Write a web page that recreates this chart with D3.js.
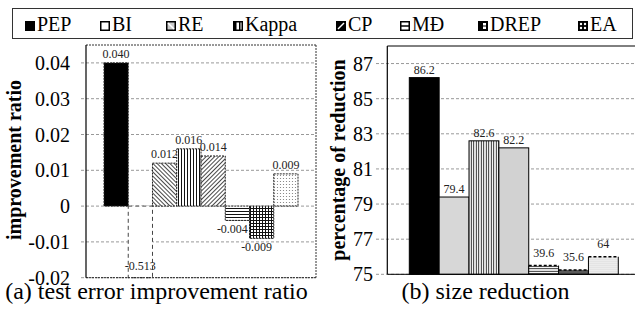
<!DOCTYPE html>
<html><head><meta charset="utf-8">
<script src="https://cdn.jsdelivr.net/npm/d3@7"></script>
<style>
body{margin:0;background:#fff}
svg{display:block}
text{font-family:"Liberation Serif","Times New Roman",serif}
</style>
</head><body>
<svg id="c" width="635" height="310" font-family="Liberation Serif, Times New Roman, serif"></svg>
<script>
// ---------- data ----------
const methods = ["PEP","BI","RE","Kappa","CP","MÐ","DREP","EA"];
const improvement = [0.040,-0.513,0.012,0.016,0.014,-0.004,-0.009,0.009];
const improvementLabels = ["0.040","-0.513","0.012","0.016","0.014","-0.004","-0.009","0.009"];
const improvementTicks = [-0.02,-0.01,0,0.01,0.02,0.03,0.04];
const improvementTickLabels = ["-0.02","-0.01","0","0.01","0.02","0.03","0.04"];

const sizeMethods = ["PEP","RE","Kappa","CP","MÐ","DREP","EA"];
const sizeReduction = [86.2,79.4,82.6,82.2,39.6,35.6,64];
const sizeLabels = ["86.2","79.4","82.6","82.2","39.6","35.6","64"];
const sizeStubTop = [null,null,null,null,75.5,75.25,76]; // drawn top of broken (off-scale) bars
const sizeTicks = [75,77,79,81,83,85,87];

// ---------- layout ----------
const svg = d3.select("#c");
const defs = svg.append("defs");

function linePattern(id, angle, gap, sw, color){
  const p = defs.append("pattern").attr("id",id).attr("patternUnits","userSpaceOnUse")
    .attr("width",gap).attr("height",gap).attr("patternTransform",`rotate(${angle})`);
  p.append("rect").attr("width",gap).attr("height",gap).attr("fill","#fff");
  p.append("line").attr("x1",gap/2).attr("x2",gap/2).attr("y1",0).attr("y2",gap)
    .attr("stroke",color).attr("stroke-width",sw);
}
function gridPattern(id, gap, sw, color){
  const p = defs.append("pattern").attr("id",id).attr("patternUnits","userSpaceOnUse")
    .attr("width",gap).attr("height",gap);
  p.append("rect").attr("width",gap).attr("height",gap).attr("fill","#fff");
  p.append("line").attr("x1",gap/2).attr("x2",gap/2).attr("y1",0).attr("y2",gap).attr("stroke",color).attr("stroke-width",sw);
  p.append("line").attr("y1",gap/2).attr("y2",gap/2).attr("x1",0).attr("x2",gap).attr("stroke",color).attr("stroke-width",sw);
}
function dotPattern(id, gap, r, color){
  const p = defs.append("pattern").attr("id",id).attr("patternUnits","userSpaceOnUse")
    .attr("width",gap).attr("height",gap);
  p.append("rect").attr("width",gap).attr("height",gap).attr("fill","#fff");
  p.append("circle").attr("cx",gap/2).attr("cy",gap/2).attr("r",r).attr("fill",color);
}
// left chart patterns
linePattern("a-RE",-45,3,0.9,"#333");
linePattern("a-Kappa",0,3,1,"#111");
linePattern("a-CP",45,3,0.9,"#333");
linePattern("a-MD",90,3,1,"#111");
gridPattern("a-DREP",3,1,"#111");
dotPattern("a-EA",3,0.6,"#777");
// right chart patterns
linePattern("b-RE",45,2,0.6,"#777");
linePattern("b-Kappa",0,2.5,0.9,"#111");
linePattern("b-CP",-45,2,0.6,"#666");
linePattern("b-MD",90,2.5,0.9,"#111");
gridPattern("b-DREP",2,0.9,"#111");
dotPattern("b-EA",2,0.5,"#888");

const key = m => m === "MÐ" ? "MD" : m;
function fillFor(prefix, m){
  if (m === "PEP") return "#000";
  if (m === "BI") return "#fff";
  return `url(#${prefix}-${key(m)})`;
}

// ---------- legend ----------
const legendX = [25,100,166,233,336,400,478,578];
svg.append("rect").attr("x",12.5).attr("y",8.5).attr("width",620).attr("height",30)
  .attr("fill","none").attr("stroke","#333").attr("stroke-width",1);
const lg = svg.append("g");
methods.forEach((m,i)=>{
  const x = legendX[i], y = 21;
  const g = lg.append("g").attr("transform",`translate(${x},${y})`);
  const k = key(m);
  if (k === "PEP") g.append("rect").attr("width",10).attr("height",10).attr("fill","#000");
  else if (k === "BI") g.append("rect").attr("x",0.75).attr("y",0.75).attr("width",8.5).attr("height",8.5).attr("fill","#fff").attr("stroke","#000").attr("stroke-width",1.5);
  else if (k === "RE") {
    g.append("rect").attr("x",0.75).attr("y",0.75).attr("width",8.5).attr("height",8.5).attr("fill","#ccc").attr("stroke","#000").attr("stroke-width",1.5);
    g.append("line").attr("x1",2).attr("y1",2).attr("x2",8).attr("y2",8).attr("stroke","#fff").attr("stroke-width",1.5);
  } else if (k === "Kappa") {
    g.append("rect").attr("x",0.75).attr("y",0.75).attr("width",8.5).attr("height",8.5).attr("fill","#fff").attr("stroke","#000").attr("stroke-width",1.5);
    g.append("rect").attr("x",1).attr("y",1).attr("width",2.5).attr("height",8).attr("fill","#000");
    g.append("rect").attr("x",6).attr("y",1).attr("width",1.5).attr("height",8).attr("fill","#000");
  } else if (k === "CP") {
    g.append("rect").attr("width",10).attr("height",10).attr("fill","#000");
    g.append("line").attr("x1",2).attr("y1",8).attr("x2",8).attr("y2",2).attr("stroke","#fff").attr("stroke-width",1.5);
  } else if (k === "MD") {
    g.append("rect").attr("x",0.75).attr("y",0.75).attr("width",8.5).attr("height",8.5).attr("fill","#fff").attr("stroke","#000").attr("stroke-width",1.5);
    g.append("line").attr("x1",1).attr("y1",5).attr("x2",9).attr("y2",5).attr("stroke","#000").attr("stroke-width",1.5);
  } else if (k === "DREP") {
    g.append("rect").attr("width",10).attr("height",10).attr("fill","#000");
    g.append("rect").attr("x",5).attr("y",2).attr("width",3).attr("height",2.5).attr("fill","#fff");
    g.append("rect").attr("x",5).attr("y",5.5).attr("width",3).attr("height",2.5).attr("fill","#fff");
  } else if (k === "EA") {
    g.append("rect").attr("width",10).attr("height",10).attr("fill","#000");
    [[3,3],[7,3],[3,7],[7,7]].forEach(([cx,cy])=>g.append("circle").attr("cx",cx).attr("cy",cy).attr("r",1.2).attr("fill","#fff"));
  }
  lg.append("text").attr("x",x+12).attr("y",31).attr("font-size",20).attr("fill","#000").text(m);
});

// ---------- chart (a) ----------
const ax0 = 86, ax1 = 316, ayTop = 45, ayBot = 277.7;
const xa = d3.scaleBand().domain(methods).range([ax0,ax1]).paddingInner(0).paddingOuter(0.742);
const ya = d3.scaleLinear().domain([-0.02,0.045]).range([ayBot,ayTop]);
const ga = svg.append("g");
ga.selectAll("line.grid").data(improvementTicks).join("line")
  .attr("x1",81).attr("x2",ax1).attr("y1",d=>ya(d)).attr("y2",d=>ya(d))
  .attr("stroke","#999").attr("stroke-width",1).attr("stroke-dasharray","3,2");
methods.forEach((m,i)=>{
  const v = improvement[i];
  const clipped = v < ya.domain()[0];
  const vv = Math.max(v, ya.domain()[0]);
  const y0 = ya(0), y1 = ya(vv);
  ga.append("rect").attr("x",xa(m)).attr("width",xa.bandwidth())
    .attr("y",Math.min(y0,y1)).attr("height",Math.abs(y1-y0))
    .attr("fill",fillFor("a",m)).attr("stroke",clipped?"#444":"#222").attr("stroke-width",1)
    .attr("stroke-dasharray",clipped?"4,3":"2,1");
  const cx = xa(m)+xa.bandwidth()/2;
  let lx = cx, ly;
  if (clipped) ly = ya(vv) - 8;
  else if (v >= 0) ly = y1 - 5;
  else { ly = y1 + 13; lx = cx - 5; }
  ga.append("text").attr("x",lx).attr("y",ly).attr("text-anchor","middle")
    .attr("font-size",12).attr("fill","#222").text(improvementLabels[i]);
});
ga.append("line").attr("x1",ax0).attr("x2",ax1).attr("y1",ayTop).attr("y2",ayTop).attr("stroke","#333").attr("stroke-dasharray","2,1");
ga.append("line").attr("x1",ax1).attr("x2",ax1).attr("y1",ayTop).attr("y2",ayBot).attr("stroke","#333").attr("stroke-dasharray","2,1");
ga.append("line").attr("x1",ax0).attr("x2",ax1).attr("y1",ayBot).attr("y2",ayBot).attr("stroke","#222").attr("stroke-dasharray","2,1");
ga.append("line").attr("x1",ax0).attr("x2",ax0).attr("y1",ayTop).attr("y2",ayBot).attr("stroke","#000").attr("stroke-width",1.2);
ga.selectAll("text.tick").data(improvementTicks).join("text")
  .attr("x",70).attr("y",d=>ya(d)).attr("dy","0.35em").attr("text-anchor","end")
  .attr("font-size",20).attr("fill","#000").text((d,i)=>improvementTickLabels[i]);
ga.append("text").attr("transform","translate(21,160) rotate(-90)").attr("text-anchor","middle")
  .attr("font-size",20).attr("font-weight","bold").text("improvement ratio");
ga.append("text").attr("x",156.5).attr("y",299).attr("text-anchor","middle").attr("font-size",24).text("(a) test error improvement ratio");

// ---------- chart (b) ----------
const bx0 = 387.3, bx1 = 640.3, byTop = 46, byBot = 274.3;
const xb = d3.scaleBand().domain(sizeMethods).range([bx0,bx1]).paddingInner(0).paddingOuter(0.737);
const yb = d3.scaleLinear().domain([75,88]).range([byBot,byTop]);
const gb = svg.append("g");
gb.selectAll("line.grid").data(sizeTicks).join("line")
  .attr("x1",376).attr("x2",bx1).attr("y1",d=>yb(d)).attr("y2",d=>yb(d))
  .attr("stroke","#999").attr("stroke-width",1).attr("stroke-dasharray","3,2");
sizeMethods.forEach((m,i)=>{
  const v = sizeReduction[i];
  const stub = sizeStubTop[i];
  const top = stub == null ? v : stub;
  const x = xb(m), w = xb.bandwidth();
  const yT = yb(top), yB = yb(75);
  gb.append("rect").attr("x",x).attr("y",yT).attr("width",w).attr("height",yB-yT)
    .attr("fill",fillFor("b",m)).attr("stroke",stub==null?"#000":"none").attr("stroke-width",1);
  if (stub != null) {
    gb.append("path").attr("d",`M${x},${yT}V${yB}H${x+w}V${yT}`).attr("fill","none").attr("stroke","#000").attr("stroke-width",1);
    gb.append("line").attr("x1",x).attr("x2",x+w).attr("y1",yT).attr("y2",yT)
      .attr("stroke","#000").attr("stroke-width",1.5).attr("stroke-dasharray","3,2");
  }
  gb.append("text").attr("x",x+w/2).attr("y",stub==null? yT-4 : yT-9).attr("text-anchor","middle")
    .attr("font-size",12).attr("fill","#222").text(sizeLabels[i]);
});
gb.append("line").attr("x1",bx0).attr("x2",bx1).attr("y1",byTop).attr("y2",byTop).attr("stroke","#000");
gb.append("line").attr("x1",bx0).attr("x2",bx1).attr("y1",byBot).attr("y2",byBot).attr("stroke","#000");
gb.append("line").attr("x1",bx0).attr("x2",bx0).attr("y1",byTop).attr("y2",byBot).attr("stroke","#000").attr("stroke-width",1.2);
gb.selectAll("text.tick").data(sizeTicks).join("text")
  .attr("x",373).attr("y",d=>yb(d)).attr("dy","0.35em").attr("text-anchor","end")
  .attr("font-size",20).attr("fill","#000").text(d=>d);
gb.append("text").attr("transform","translate(345,160) rotate(-90)").attr("text-anchor","middle")
  .attr("font-size",20).attr("font-weight","bold").text("percentage of reduction");
gb.append("text").attr("x",485.5).attr("y",299).attr("text-anchor","middle").attr("font-size",24).text("(b) size reduction");
</script>
</body></html>
